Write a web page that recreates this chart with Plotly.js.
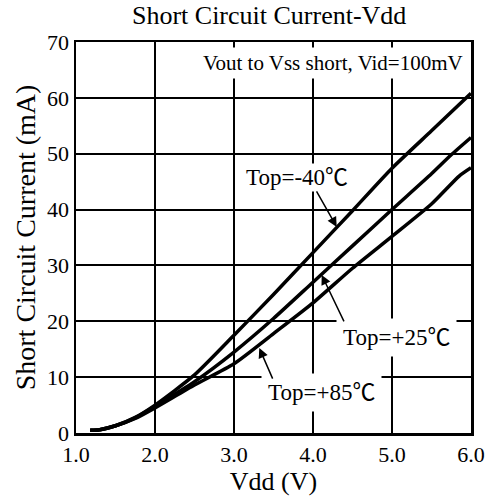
<!DOCTYPE html>
<html>
<head>
<meta charset="utf-8">
<script src="https://cdn.plot.ly/plotly-3.0.1.min.js"></script>
<style>html,body{margin:0;padding:0;background:#fff;}#chart{width:485px;height:502px;}</style>
</head>
<body>
<div id="chart"></div>
<script>
// Vdd (V) sample points and short circuit current (mA) per temperature
const vddM40 = [1.18, 1.3, 1.5, 1.75, 2.0, 2.5, 3.0, 3.5, 4.0, 4.5, 5.0, 5.5, 6.0];
const iM40   = [0.5, 0.6, 1.3, 2.8, 5.0, 10.4, 17.5, 24.8, 32.3, 39.8, 47.4, 54.1, 60.8];

const vddP25 = [1.18, 1.3, 1.5, 1.75, 2.0, 2.5, 3.0, 3.5, 4.0, 4.5, 5.0, 5.5, 5.75, 6.0];
const iP25   = [0.5, 0.6, 1.3, 2.7, 4.8, 9.2, 14.5, 20.5, 27.0, 33.5, 40.0, 46.4, 49.8, 52.9];

const vddP85 = [1.18, 1.3, 1.5, 1.75, 2.0, 2.5, 3.0, 3.5, 4.0, 4.5, 5.0, 5.5, 5.85, 6.0];
const iP85   = [0.5, 0.6, 1.3, 2.6, 4.5, 8.6, 12.4, 17.8, 23.3, 29.5, 35.2, 41.0, 46.0, 47.5];

const seriesNames = ['Top=-40℃', 'Top=+25℃', 'Top=+85℃'];
const xTickVals = [1, 2, 3, 4, 5, 6];
const xTickText = ['1.0', '2.0', '3.0', '4.0', '5.0', '6.0'];
const yTickVals = [0, 10, 20, 30, 40, 50, 60, 70];

const FONT = '"Liberation Serif", "Noto Sans CJK SC", "Times New Roman", serif';
const lineStyle = {color: '#000', width: 3.5, shape: 'spline', smoothing: 0.6};

const traces = [
  {x: vddM40, y: iM40, name: seriesNames[0], mode: 'lines', line: lineStyle},
  {x: vddP25, y: iP25, name: seriesNames[1], mode: 'lines', line: lineStyle},
  {x: vddP85, y: iP85, name: seriesNames[2], mode: 'lines', line: lineStyle}
];

const labelFont = {family: FONT, size: 23, color: '#000'};
function label(x, y, text, pad) {
  return {x: x, y: y, xref: 'x', yref: 'y', text: text, showarrow: false,
          font: labelFont, bgcolor: '#fff', borderpad: pad};
}
function arrow(x, y, ax, ay) {
  return {x: x, y: y, xref: 'x', yref: 'y', text: '', showarrow: true, ax: ax, ay: ay,
          arrowhead: 2, arrowsize: 1.3, arrowwidth: 1.5, arrowcolor: '#000', standoff: 0, startstandoff: 0};
}

const layout = {
  width: 485, height: 502,
  margin: {l: 76, r: 14, t: 42, b: 69},
  paper_bgcolor: '#fff', plot_bgcolor: '#fff',
  showlegend: false,
  font: {family: FONT, color: '#000'},
  title: {text: 'Short Circuit Current-Vdd', font: {family: FONT, size: 26, color: '#000'},
          x: 0.555, xanchor: 'center', y: 0.952, yanchor: 'bottom'},
  xaxis: {
    range: [1, 6], tickvals: xTickVals, ticktext: xTickText,
    showgrid: true, gridcolor: '#000', gridwidth: 2,
    showline: true, linecolor: '#000', linewidth: 2.5, mirror: true,
    zeroline: false, ticks: '', ticklen: 0,
    tickfont: {family: FONT, size: 22, color: '#000'},
    title: {text: 'Vdd (V)', font: {family: FONT, size: 26, color: '#000'}, standoff: 6}
  },
  yaxis: {
    range: [0, 70], tickvals: yTickVals,
    showgrid: true, gridcolor: '#000', gridwidth: 2,
    showline: true, linecolor: '#000', linewidth: 2.5, mirror: true,
    zeroline: false, ticks: '', ticklen: 0,
    tickfont: {family: FONT, size: 22, color: '#000'},
    title: {text: 'Short Circuit Current (mA)', font: {family: FONT, size: 28, color: '#000'}, standoff: 4}
  },
  annotations: [
    {x: 4.25, y: 66.2, xref: 'x', yref: 'y', text: 'Vout to Vss short, Vid=100mV', showarrow: false,
     font: {family: FONT, size: 21, color: '#000'}, bgcolor: '#fff', borderpad: 3},
    label(3.80, 45.8, seriesNames[0], 1),
    label(5.06, 17.1, seriesNames[1], 6),
    label(4.11, 7.3, seriesNames[2], 6),
    arrow(4.30, 36.9, -21, -37),
    arrow(4.11, 28.3, 23, 48),
    arrow(3.32, 15.2, 14, 32)
  ]
};

Plotly.newPlot('chart', traces, layout, {displayModeBar: false, staticPlot: true});
</script>
</body>
</html>
